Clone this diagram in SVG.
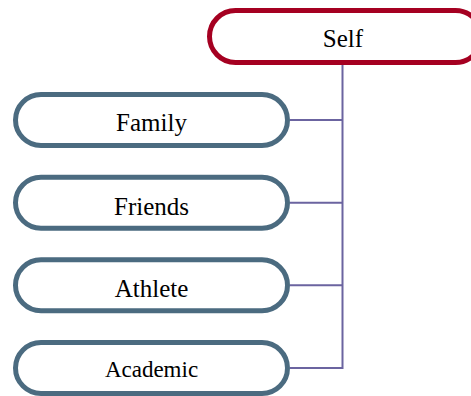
<svg xmlns="http://www.w3.org/2000/svg" width="471" height="396" viewBox="0 0 471 396">
<style>
.box{fill:#ffffff;stroke:#4b6b80;stroke-width:5}
.root{fill:#ffffff;stroke:#a50021;stroke-width:5}
.lbl{font-family:"Liberation Serif","Times New Roman",serif;font-size:25px;fill:#000;text-anchor:middle}
.conn{fill:none;stroke:#6b64a0;stroke-width:2}
</style>
<rect width="471" height="396" fill="#ffffff"/>
<g id="connectors">
<path class="conn" d="M342.5,63 V368 M290,120 H342.5 M290,202.7 H342.5 M290,285.3 H342.5 M290,368 H343.5"/>
</g>
<g id="self">
<rect class="root" x="209.5" y="10.5" width="272" height="52" rx="26"/>
<text class="lbl" x="343" y="47">Self</text>
</g>
<g id="family">
<rect class="box" x="15.5" y="94.5" width="272" height="51" rx="25.5"/>
<text class="lbl" x="151.5" y="130.5">Family</text>
</g>
<g id="friends">
<rect class="box" x="15.5" y="177.2" width="272" height="51" rx="25.5"/>
<text class="lbl" x="151.5" y="215">Friends</text>
</g>
<g id="athlete">
<rect class="box" x="15.5" y="259.8" width="272" height="51" rx="25.5"/>
<text class="lbl" x="151.5" y="297">Athlete</text>
</g>
<g id="academic">
<rect class="box" x="15.5" y="342.5" width="272" height="51" rx="25.5"/>
<text class="lbl" x="151.5" y="377" style="font-size:23px">Academic</text>
</g>
</svg>
